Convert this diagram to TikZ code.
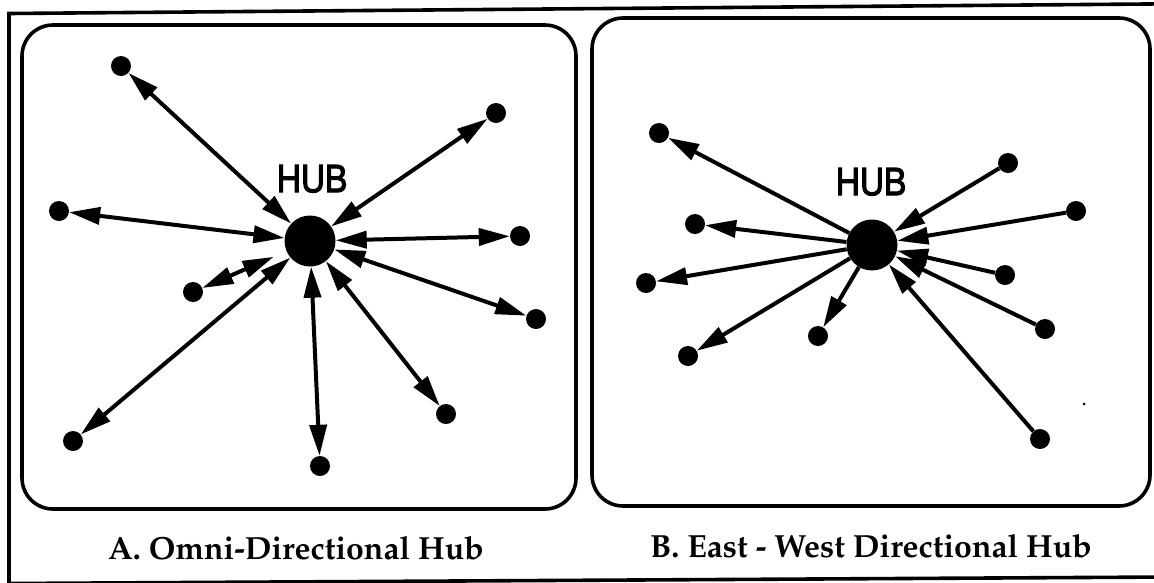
\documentclass[tikz,border=0pt]{standalone}
\usepackage[T1,TU]{fontenc}
\usepackage{fontspec}
\usetikzlibrary{arrows.meta}
\newfontface\hubfont{TeX Gyre Heros}[FakeBold=3]
\newcommand{\capfont}{\fontencoding{T1}\fontfamily{ppl}\fontseries{b}\fontshape{n}\fontsize{32}{36}\selectfont}
\tikzset{
  frameline/.style={line width=3.6pt, line join=miter},
  panel/.style={draw, line width=3.6pt, rounded corners=31pt},
  dot/.style={circle, fill=black, inner sep=0pt, minimum size=20pt},
  hub/.style={circle, fill=black, inner sep=0pt, minimum size=51pt},
  tip/.tip={Triangle[length=31pt, width=17pt]},
  oneway/.style={line width=4pt, -tip},
  twoway/.style={line width=4pt, tip-tip},
  hublabel/.style={font=\hubfont\fontsize{37}{40}\selectfont, inner sep=0pt, anchor=base, xscale=0.9},
  caption/.style={font=\capfont, inner sep=0pt, anchor=base}
}
\begin{document}
\begin{tikzpicture}[x=1pt, y=-1pt]
  \useasboundingbox (0,0) rectangle (1154,582);
  \begin{scope}
    \clip (0,0) rectangle (1154,582);
    % outer frame (runs past the page edges)
    \draw[frameline] (9,13.5) -- (1170,3.8) -- (1170,577) -- (9,583.5) -- cycle;
  \end{scope}

  % ---------- A: omni-directional hub ----------
  \draw[panel] (22,25) rectangle (576,509);
  \node[hub] (LH) at (310,241) {};
  \node[hublabel] (LHt) at (312,192) {HUB};
  \node[dot] (L1) at (121,66) {};
  \node[dot] (L2) at (496,113) {};
  \node[dot] (L3) at (59,211) {};
  \node[dot] (L4) at (520,236) {};
  \node[dot] (L5) at (193,292) {};
  \node[dot] (L6) at (536,319) {};
  \node[dot] (L7) at (73,441) {};
  \node[dot] (L8) at (320,466) {};
  \node[dot] (L9) at (446,414) {};
  \draw[twoway] (L1) -- (LH);
  \draw[twoway] (L2) -- (LH);
  \draw[twoway] (L3) -- (LH);
  \draw[twoway] (L4) -- (LH);
  \draw[twoway, shorten >=14pt] (L5) -- (LH);
  \draw[twoway] (L6) -- (LH);
  \draw[twoway] (L7) -- (LH);
  \draw[twoway] (L8) -- (LH);
  \draw[twoway] (L9) -- (LH);
  \node[caption] (capA) at (296,559) {A. Omni-Directional Hub};

  % ---------- B: east-west directional hub ----------
  \draw[panel] (592,18) rectangle (1150,506);
  \node[hub] (RH) at (872,245) {};
  \node[hublabel] (RHt) at (871,195) {HUB};
  \node[dot] (Ra) at (659,133) {};
  \node[dot] (Rb) at (1008,163) {};
  \node[dot] (Rc) at (695,224) {};
  \node[dot] (Rd) at (1076,211) {};
  \node[dot] (Re) at (646,283) {};
  \node[dot] (Rf) at (1005,275) {};
  \node[dot] (Rg) at (688,356) {};
  \node[dot] (Rh) at (818,336) {};
  \node[dot] (Ri) at (1045,329) {};
  \node[dot] (Rj) at (1040,439) {};
  % westward: out of the hub
  \draw[oneway] (RH) -- (Ra);
  \draw[oneway] (RH) -- (Rc);
  \draw[oneway] (RH) -- (Re);
  \draw[oneway] (RH) -- (Rg);
  \draw[oneway] (RH) -- (Rh);
  % eastward: into the hub
  \draw[oneway] (Rb) -- (RH);
  \draw[oneway] (Rd) -- (RH);
  \draw[oneway] (Rf) -- (RH);
  \draw[oneway] (Ri) -- (RH);
  \draw[oneway] (Rj) -- (RH);
  \fill (1084,404) circle (1.5);
  \node[caption] (capB) at (871,557) {B. East - West Directional Hub};
\end{tikzpicture}
\end{document}
